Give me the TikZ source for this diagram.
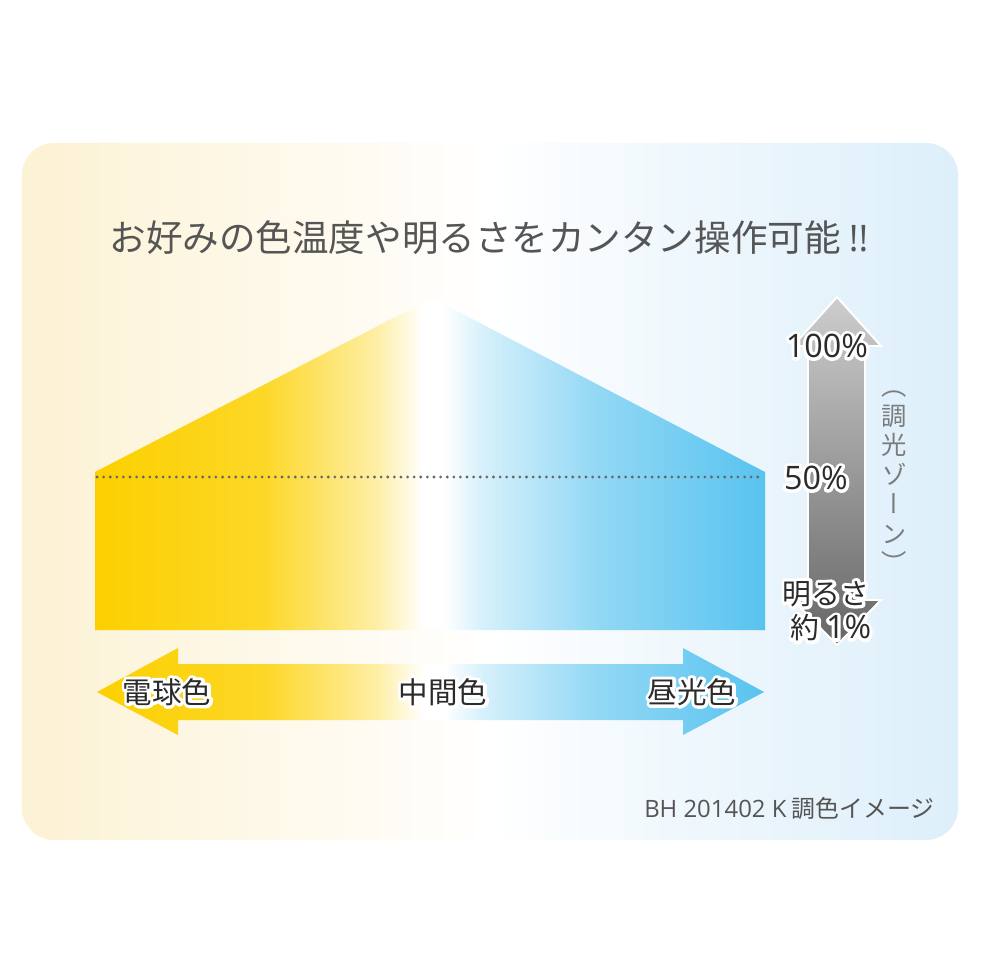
\documentclass[tikz,border=0pt]{standalone}
\usepackage{fontspec}
\setmainfont{Noto Sans CJK JP}
\newfontfamily\latn{Open Sans}
\newfontfamily\vertfont[RawFeature=+vert]{Noto Sans CJK JP}
\usetikzlibrary{positioning}

% white outline behind a text: stroked copy first, then the text itself
\newcommand{\halo}[1]{\leavevmode\rlap{\special{pdf:literal direct 1 Tr 4.5 w 1 j 1 1 1 RG}#1\special{pdf:literal direct 0 Tr}}#1}

\definecolor{cream}{HTML}{FCF2D4}
\definecolor{paleblue}{HTML}{DDEFFA}
\definecolor{warmyel}{HTML}{FCD000}
\definecolor{coolblue}{HTML}{58C3EF}
\definecolor{titlegray}{HTML}{555555}
\definecolor{labeldark}{HTML}{2B2B2B}
\definecolor{zonegray}{HTML}{7C7C7C}
\definecolor{dotgray}{HTML}{666666}
\definecolor{bartop}{HTML}{CDCDCD}
\definecolor{barbottom}{HTML}{666666}

% background panel: cream -> white -> pale blue
\pgfdeclarehorizontalshading{panelshade}{100bp}{color(0bp)=(cream); color(25bp)=(cream);
  color(40bp)=(cream!45!white); color(50bp)=(white); color(60bp)=(paleblue!45!white);
  color(75bp)=(paleblue); color(100bp)=(paleblue)}
% light colour: warm -> white -> cool
\pgfdeclarehorizontalshading{warmcool}{100bp}{color(0bp)=(warmyel); color(25bp)=(warmyel);
  color(37.5bp)=(warmyel!85!white); color(46bp)=(warmyel!35!white); color(49.5bp)=(white);
  color(51bp)=(white); color(54bp)=(coolblue!25!white); color(62.5bp)=(coolblue!65!white);
  color(75bp)=(coolblue); color(100bp)=(coolblue)}

\tikzset{
  lbl/.style={font=\fontsize{21}{24}\selectfont, text=labeldark, inner sep=0pt},
  pct/.style={font=\fontsize{20.5}{24}\selectfont, text=labeldark, inner sep=0pt},
  dotline/.style={line width=2.2pt, line cap=round, dash pattern=on 0pt off 4.7pt, dotgray},
}

\begin{document}
\begin{tikzpicture}[x=0.25mm,y=-0.25mm]
\useasboundingbox (0,0) rectangle (980,980);
\fill[white] (0,0) rectangle (980,980);
\shade[shading=panelshade,rounded corners=22.8pt] (22,143) rectangle (958,840);

\node (title) at (489,238) [font=\fontsize{26}{30}\selectfont, text=titlegray] {お好みの色温度や明るさをカンタン操作可能\ {\latn !!}};

% pentagon
\shade[shading=warmcool] (95,630) -- (95,472) -- (432,298) -- (765,472) -- (765,630) -- cycle;
\draw[dotline] (97,477) -- (763,477);

% colour arrow
\shade[shading=warmcool] (97,692) -- (178,648) -- (178,664) -- (683,664) -- (683,648) -- (764,692)
  -- (683,735) -- (683,720) -- (178,720) -- (178,735) -- cycle;
\node[lbl] (warm) at (167,692) {\halo{電球色}};
\node[lbl] (mid) at (443,692) {\halo{中間色}};
\node[lbl] (cool) at (692,692) {\halo{昼光色}};

% dimming arrow
\shade[top color=bartop,bottom color=barbottom,draw=white,line width=1.4pt]
  (837,297) -- (881,346) -- (865,346) -- (865,600) -- (881,600) -- (837,645)
  -- (793,600) -- (808,600) -- (808,346) -- (793,346) -- cycle;
\node[pct] (full) at (827,346) {\halo{\latn\fontsize{23}{24}\selectfont 100\%}};
\node[pct] (half) at (816,478) {\halo{\latn\fontsize{23}{24}\selectfont 50\%}};
\node[pct] (bright) at (826,594) {\halo{明るさ}};
\node[pct] (least) at (831,628) {\halo{約 {\latn\fontsize{23}{24}\selectfont 1\%}}};
\node (zone) at (894,482) [font=\vertfont\fontsize{18}{21}\selectfont, text=zonegray, align=center, inner sep=0pt]
  {（\\調\\光\\ゾ\\ー\\ン\\）};

\node (caption) at (935,808) [anchor=east, font=\fontsize{17}{20}\selectfont, text=titlegray, inner sep=0pt] {{\latn BH 201402 K} 調色イメージ};
\end{tikzpicture}
\end{document}
